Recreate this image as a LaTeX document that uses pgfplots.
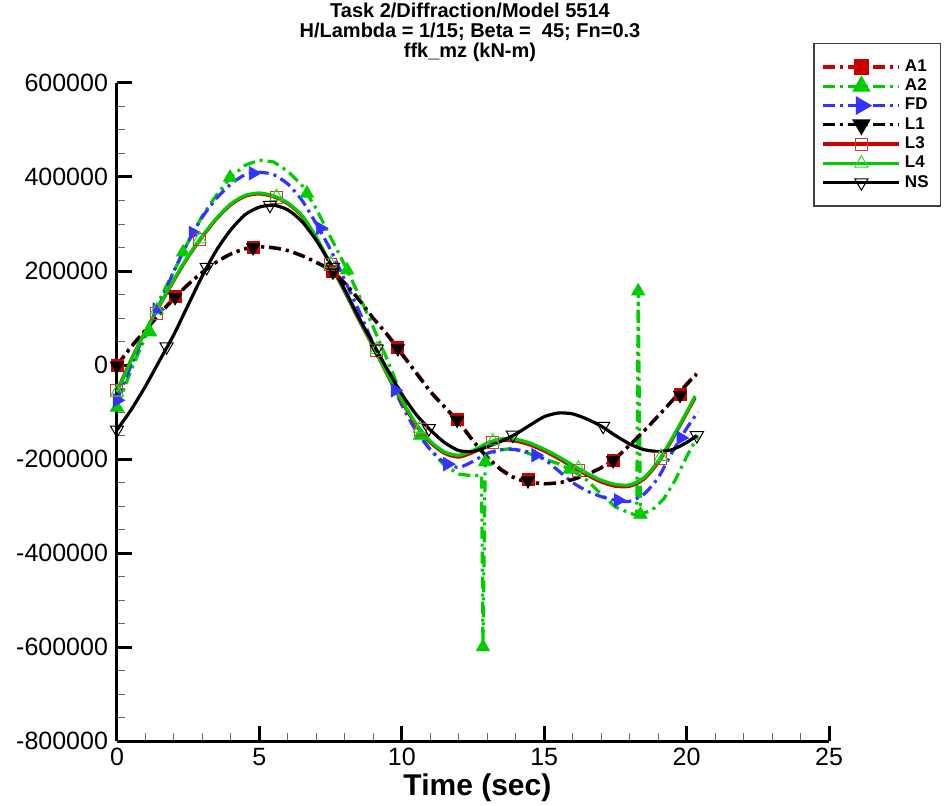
\documentclass[border=0pt]{standalone}
\usepackage{fontspec}
\setmainfont{Liberation Sans}
\usepackage{pgfplots}
\usepackage{pgfplotstable}
\pgfplotsset{compat=1.18}
\definecolor{tred}{RGB}{204,0,0}
\definecolor{tgreen}{RGB}{0,204,0}
\definecolor{tblue}{RGB}{51,51,255}

\pgfplotstableread{
t y
0 0
0.5 40000
1 75000
1.5 110000
2 143000
2.5 172000
3 198000
3.5 220000
4 237000
4.5 248000
5 252000
5.5 250000
6 244000
6.5 233000
7 219000
7.5 203000
8 175000
8.5 140000
9 100000
9.5 65000
10 25000
10.5 -15000
11 -55000
11.5 -88000
12 -120000
12.5 -160000
13 -195000
13.5 -222000
14 -240000
14.5 -248000
15 -252000
15.5 -250000
16 -243000
16.5 -232000
17 -218000
17.5 -198000
18 -170000
18.5 -140000
19 -108000
19.5 -75000
20 -40000
20.35 -18000
}\tabAone

\pgfplotstableread{
t y
0 -2000
0.5 38000
1 74000
1.5 108000
2 141000
2.5 171000
3 197000
3.5 219000
4 236000
4.5 247000
5 251000
5.5 249000
6 243000
6.5 232000
7 218000
7.5 201000
8 173000
8.5 138000
9 99000
9.5 63000
10 23000
10.5 -17000
11 -57000
11.5 -90000
12 -122000
12.5 -162000
13 -197000
13.5 -224000
14 -242000
14.5 -250000
15 -253000
15.5 -251000
16 -244000
16.5 -233000
17 -219000
17.5 -199000
18 -171000
18.5 -141000
19 -109000
19.5 -76000
20 -42000
20.35 -20000
}\tabLone

\pgfplotstableread{
t y
0 -90000
0.5 -10000
1 60000
1.5 140000
2 200000
2.5 262000
3 318000
3.5 362000
4 400000
4.5 425000
5 436000
5.5 432000
6 412000
6.5 382000
7 332000
7.5 272000
8 212000
8.5 148000
9 80000
9.5 10000
10 -65000
10.5 -135000
11 -180000
11.5 -214000
12 -232000
12.5 -236000
12.8 -234000
12.85 -600000
12.93 -206000
13.3 -182000
13.8 -178000
14.3 -185000
15 -200000
15.5 -210000
16 -225000
16.5 -245000
17 -275000
17.5 -302000
18 -315000
18.25 -320000
18.3 157000
18.38 -318000
18.8 -308000
19.2 -285000
19.6 -245000
20 -195000
20.4 -150000
}\tabAtwo

\pgfplotstableread{
t y
0 -75000
0.5 0
1 70000
1.5 130000
2 200000
2.5 262000
3 315000
3.5 355000
4 385000
4.5 405000
5 410000
5.5 405000
6 385000
6.5 350000
7 300000
7.5 245000
8 180000
8.5 115000
9 45000
9.5 -20000
10 -85000
10.5 -140000
11 -180000
11.5 -208000
12 -218000
12.5 -205000
13 -188000
13.5 -180000
14 -180000
14.5 -186000
15 -200000
15.5 -225000
16 -250000
16.5 -268000
17 -280000
17.5 -288000
18 -290000
18.5 -275000
19 -240000
19.5 -185000
20 -135000
20.4 -100000
}\tabFD

\pgfplotstableread{
t y
0 -55000
0.5 12000
1 72000
1.5 127000
2 180000
2.5 230000
3 273000
3.5 311000
4 341000
4.5 359000
5 364000
5.5 358000
6 343000
6.5 316000
7 270000
7.5 213000
8 155000
8.5 95000
9 38000
9.5 -22000
10 -78000
10.5 -128000
11 -165000
11.5 -188000
12 -196000
12.5 -186000
13 -170000
13.5 -161000
14 -162000
14.5 -170000
15 -183000
15.5 -199000
16 -217000
16.5 -234000
17 -249000
17.5 -258000
18 -258000
18.5 -243000
19 -208000
19.5 -158000
20 -103000
20.3 -70000
}\tabLthree

\pgfplotstableread{
t y
0 -58000
0.5 10000
1 72000
1.5 128000
2 182000
2.5 232000
3 275000
3.5 313000
4 343000
4.5 361000
5 366000
5.5 360000
6 345000
6.5 318000
7 272000
7.5 215000
8 157000
8.5 97000
9 40000
9.5 -20000
10 -75000
10.5 -125000
11 -162000
11.5 -185000
12 -192000
12.5 -182000
13 -166000
13.5 -157000
14 -158000
14.5 -166000
15 -179000
15.5 -195000
16 -213000
16.5 -230000
17 -245000
17.5 -254000
18 -255000
18.5 -240000
19 -205000
19.5 -155000
20 -100000
20.3 -66000
}\tabLfour

\pgfplotstableread{
t y
0 -138000
0.5 -95000
1 -45000
1.5 10000
2 65000
2.5 128000
3 190000
3.5 245000
4 288000
4.5 320000
5 336000
5.5 340000
6 330000
6.5 305000
7 265000
7.5 215000
8 160000
8.5 100000
9 45000
9.5 -10000
10 -62000
10.5 -105000
11 -138000
11.5 -165000
12 -182000
12.5 -184000
13 -174000
13.5 -162000
14 -147000
14.5 -128000
15 -110000
15.5 -102000
16 -104000
16.5 -115000
17 -130000
17.5 -150000
18 -168000
18.5 -180000
19 -184000
19.5 -180000
20 -165000
20.36 -150000
}\tabNS

\tikzset{
  dashdot/.style={dash pattern=on 6pt off 2.5pt on 1.5pt off 2.5pt},
}

\begin{document}
\begin{tikzpicture}
\path[use as bounding box] (0,0) rectangle (474pt,402.5pt);
\begin{axis}[
  at={(58.5pt,32pt)}, anchor=south west,
  scale only axis, width=356pt, height=329pt,
  xmin=0, xmax=25, ymin=-800000, ymax=600000,
  axis x line=bottom, axis y line=left,
  axis line style={-, line width=1.5pt},
  xtick={0,5,10,15,20,25}, xticklabels={0,5,10,15,20,25},
  ytick={-800000,-600000,-400000,-200000,0,200000,400000,600000},
  yticklabels={-800000,-600000,-400000,-200000,0,200000,400000,600000},
  minor x tick num=4, minor y tick num=3,
  tick align=inside, major tick length=7.5pt, minor tick length=4pt,
  every major tick/.style={line width=1.5pt, black},
  every minor tick/.style={line width=0.5pt, black!60},
  tick label style={font=\fontsize{12.5}{12.5}\selectfont},
  yticklabel style={xshift=-1pt},
  scaled y ticks=false,
  clip=false,
  legend cell align=left,
  legend style={at={(0.9775,1.061)}, anchor=north west, draw=black!75, line width=0.8pt,
    font=\bfseries\fontsize{8.5}{10}\selectfont, row sep=-1.75pt, inner xsep=4pt, inner ysep=6pt},
  legend image code/.code={\draw[mark repeat=2,mark phase=2,#1] plot coordinates {(0pt,0pt) (19pt,0pt) (38pt,0pt)};},
]
% A1
\addplot[tred, line width=1.6pt, dashdot, smooth, tension=0.4, forget plot] table {\tabAone};
\addplot[only marks, mark=square*, mark size=3pt, color=tred, forget plot] coordinates {
(0,0) (2.04,146000) (4.78,251000) (7.58,200000) (9.86,37000) (11.94,-115000) (14.43,-244000) (17.42,-202000) (19.77,-62000)};
% A2
\addplot[tgreen, line width=1.6pt, dashdot, forget plot] table {\tabAtwo};
\addplot[only marks, mark=triangle*, mark size=3.8pt, color=tgreen, forget plot] coordinates {
(0,-90000) (1.16,70000) (2.32,240000) (3.97,399000) (6.67,365000) (8.08,202000) (10.64,-150000) (12.85,-600000) (12.93,-206000) (15.9,-222000) (18.3,157000) (18.38,-318000)};
% FD
\addplot[tblue, line width=1.6pt, dashdot, smooth, tension=0.4, forget plot] table {\tabFD};
\addplot[only marks, mark=triangle*, mark options={rotate=-90}, mark size=3.8pt, color=tblue, forget plot] coordinates {
(0,-75000) (1.4,118000) (2.67,281000) (4.78,408000) (7.13,291000) (9.76,-54000) (11.6,-211000) (14.7,-192000) (17.6,-288000) (19.8,-155000)};
% L1
\addplot[black, line width=1.6pt, dashdot, smooth, tension=0.4, forget plot] table {\tabLone};
\addplot[only marks, mark=triangle*, mark options={rotate=180}, mark size=3.8pt, color=black, forget plot] coordinates {
(0,-2000) (2.04,144000) (4.78,250000) (7.58,198000) (9.86,35000) (11.94,-117000) (14.43,-246000) (17.42,-203000) (19.77,-64000)};
% L3
\addplot[tred, line width=1.6pt, smooth, tension=0.4, forget plot] table {\tabLthree};
\addplot[only marks, mark=square, mark size=3pt, mark options={line width=0.5pt}, color=tred!80, forget plot] coordinates {
(0,-55000) (1.4,110000) (2.9,268000) (5.6,356000) (7.5,213000) (9.12,31000) (10.64,-138000) (13.2,-165000) (16.2,-225000) (19.1,-198000)};
% L4
\addplot[tgreen, line width=1.6pt, smooth, tension=0.4, forget plot] table {\tabLfour};
\addplot[only marks, mark=triangle, mark size=3.8pt, mark options={line width=0.5pt}, color=tgreen!80, forget plot] coordinates {
(0,-58000) (1.4,117000) (2.9,268000) (5.6,358000) (7.5,215000) (9.12,33000) (10.64,-135000) (13.2,-162000) (16.2,-220000) (19.1,-195000)};
% NS
\addplot[black, line width=1.6pt, smooth, tension=0.4, forget plot] table {\tabNS};
\addplot[only marks, mark=triangle, mark options={rotate=180, line width=0.5pt}, mark size=3.8pt, color=black, forget plot] coordinates {
(0,-138000) (1.74,39000) (3.15,208000) (5.37,340000) (7.58,208000) (9.12,34000) (10.95,-135000) (13.9,-149000) (17.07,-130000) (20.36,-150000)};

\addlegendimage{tred, line width=1.6pt, dashdot, mark=square*, mark size=3pt, mark options={solid}}
\addlegendentry{A1}
\addlegendimage{tgreen, line width=1.6pt, dashdot, mark=triangle*, mark size=3.8pt, mark options={solid}}
\addlegendentry{A2}
\addlegendimage{tblue, line width=1.6pt, dashdot, mark=triangle*, mark size=3.8pt, mark options={solid, rotate=-90}}
\addlegendentry{FD}
\addlegendimage{black, line width=1.6pt, dashdot, mark=triangle*, mark size=3.8pt, mark options={solid, rotate=180}}
\addlegendentry{L1}
\addlegendimage{tred, line width=1.6pt, mark=square, mark size=3pt, mark options={line width=0.5pt, fill=white, draw=tred!80}}
\addlegendentry{L3}
\addlegendimage{tgreen, line width=1.6pt, mark=triangle, mark size=3.8pt, mark options={line width=0.5pt, fill=white, draw=tgreen!80}}
\addlegendentry{L4}
\addlegendimage{black, line width=1.6pt, mark=triangle, mark size=3.8pt, mark options={line width=0.5pt, rotate=180, fill=white}}
\addlegendentry{NS}
\end{axis}
\node[anchor=north, align=center, inner sep=0pt, font=\bfseries\fontsize{10}{10}\selectfont] at (235pt,401pt)
  {Task 2/Diffraction/Model 5514\\H/Lambda = 1/15; Beta = \ 45; Fn=0.3\\ffk\_mz (kN-m)};
\node[anchor=base, inner sep=0pt, font=\bfseries\fontsize{15}{15}\selectfont] at (238.7pt,5pt) {Time (sec)};
\end{tikzpicture}
\end{document}
